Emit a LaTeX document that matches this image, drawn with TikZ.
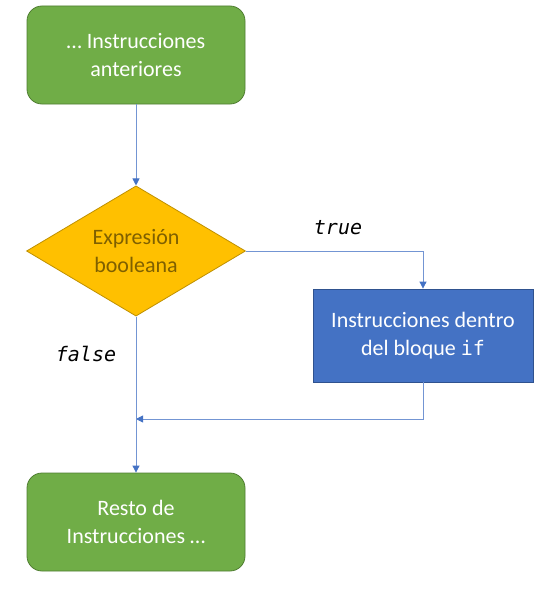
\documentclass[tikz,border=0pt]{standalone}
\usepackage{fontspec}
\setmainfont{Carlito}
\setmonofont{DejaVu Sans Mono}
\usetikzlibrary{shapes.geometric,arrows.meta}
\definecolor{gfill}{HTML}{70AD47}
\definecolor{gdraw}{HTML}{507E32}
\definecolor{yfill}{HTML}{FFC000}
\definecolor{ydraw}{HTML}{BF9000}
\definecolor{ytext}{HTML}{7F6000}
\definecolor{bfill}{HTML}{4472C4}
\definecolor{bdraw}{HTML}{2F528F}
\definecolor{lnk}{HTML}{4472C4}
\begin{document}
\begin{tikzpicture}[x=1pt,y=-1pt,
  txt/.style={align=center,font=\fontsize{22}{28}\selectfont,inner sep=0pt,line width=0.8pt},
  gbox/.style={txt,draw=gdraw,fill=gfill,rounded corners=15pt,minimum width=218pt,minimum height=98pt,text=white},
  bbox/.style={txt,draw=bdraw,fill=bfill,minimum width=220pt,minimum height=93pt,text=white},
  dia/.style={txt,draw=ydraw,fill=yfill,diamond,minimum width=219pt,minimum height=130pt,text=ytext},
  conn/.style={draw=lnk!75,line width=0.8pt,-{Triangle[length=7pt,width=7pt,fill=lnk,color=lnk]}},
  lab/.style={font=\fontsize{20}{22}\selectfont\ttfamily\itshape,inner sep=0pt}
]
\useasboundingbox (0,0) rectangle (550,594);
\node[gbox] (top) at (136,55) {\dots\ Instrucciones\\anteriores};
\node[dia] (cond) at (136,251) {Expresión\\booleana};
\node[bbox] (blk) at (423,335.5) {Instrucciones dentro\\del bloque {\fontsize{20}{28}\selectfont\ttfamily if}};
\node[gbox] (rest) at (136,522) {Resto de\\Instrucciones \dots};
\coordinate (tc) at (423,251);
\coordinate (bc) at (423,419);
\coordinate (mg) at (136,419);
\draw[conn] (top) -- (cond);
\draw[conn] (cond.east) -- (tc) -- (blk.north);
\draw[conn] (blk.south) -- (bc) -- (mg);
\draw[conn] (cond.south) -- (rest.north);
\node[lab] (t) at (338,228) {true};
\node[lab] (f) at (86,354) {false};
\end{tikzpicture}
\end{document}
